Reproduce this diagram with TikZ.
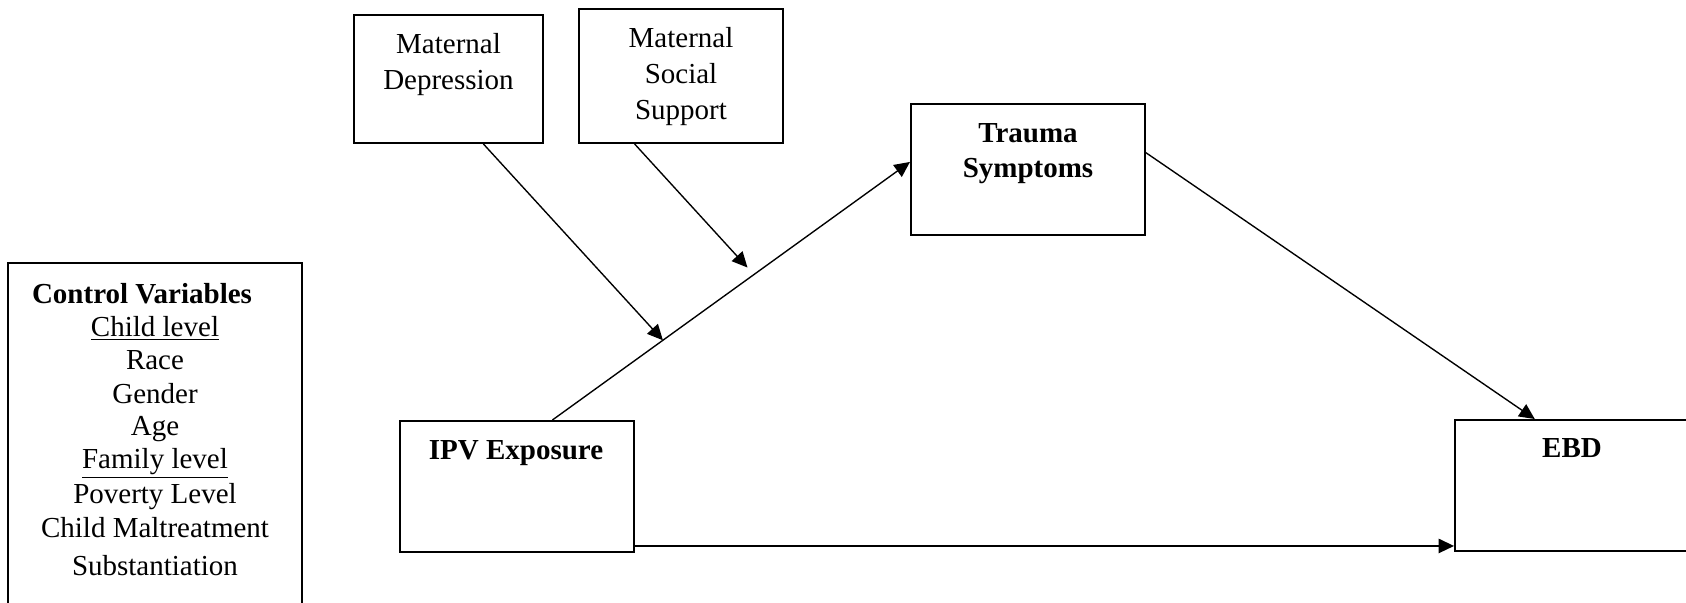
\documentclass[tikz,border=0pt]{standalone}
\usepackage{fontspec}
\setmainfont{Liberation Serif}
\usetikzlibrary{arrows.meta,calc,fit}
\begin{document}
\begin{tikzpicture}[x=0.4pt,y=-0.4pt,
  box/.style={draw, line width=0.8pt, rectangle, inner sep=0pt},
  lbl/.style={anchor=base, inner sep=0pt, align=center,
    font=\fontsize{11.6}{14.4}\selectfont},
  conn/.style={line width=0.55pt, -{Triangle[length=6.2pt,width=5.8pt]}},
]
% page frame
\clip (0,0) rectangle (1686,602);
\fill[white] (0,0) rectangle (1686,602);

% boxes
\node[box, fit={(354,15) (543,143)}] (md) {};
\node[box, fit={(579,9) (783,143)}] (ms) {};
\node[box, fit={(911,104) (1145,235)}] (ts) {};
\node[box, fit={(400,421) (634,552)}] (ipv) {};
\node[box, fit={(1455,420) (1700,551)}] (ebd) {};
\node[box, fit={(8,263) (302,650)}] (ctrl) {};

% box labels (multi-line labels sit on their last baseline)
\node[lbl] (mdtxt) at (448.5,89) {Maternal\\Depression};
\node[lbl] (mstxt) at (681,119) {Maternal\\Social\\Support};
\node[lbl, font=\fontsize{11.6}{14}\selectfont\bfseries] (tstxt) at (1028,177) {Trauma\\Symptoms};
\node[lbl, font=\fontsize{11.6}{14}\selectfont\bfseries] (ipvtxt) at (516,459) {IPV Exposure};
\node[lbl, font=\fontsize{11.6}{14}\selectfont\bfseries] (ebdtxt) at (1572,457) {EBD};

% control variables list
\node[lbl, font=\fontsize{11.6}{14}\selectfont\bfseries] (cv0) at (142,303) {Control Variables};
\node[lbl] (cv1) at (155,336) {\underline{Child level}};
\node[lbl] (cv2) at (155,369) {Race};
\node[lbl] (cv3) at (155,403) {Gender};
\node[lbl] (cv4) at (155,435) {Age};
\node[lbl] (cv5) at (155,468) {\underline{Family level}};
\node[lbl] (cv6) at (155,503) {Poverty Level};
\node[lbl] (cv7) at (155,537) {Child Maltreatment};
\node[lbl] (cv8) at (155,575) {Substantiation};

% connector end points
\coordinate (ipvout) at ($(ipv.north west)!0.65!(ipv.north east)$);
\coordinate (tsin) at ($(ts.north west)!0.443!(ts.south west)$);
\coordinate (tsout) at ($(ts.north east)!0.374!(ts.south east)$);
\coordinate (ebdin) at ($(ebd.north west)!0.327!(ebd.north east)$);
\coordinate (ipvlow) at ($(ipv.north east)!0.947!(ipv.south east)$);
\coordinate (mdout) at ($(md.south west)!0.683!(md.south east)$);
\coordinate (msout) at ($(ms.south west)!0.275!(ms.south east)$);
\coordinate (modA) at ($(ipvout)!0.309!(tsin)$);
\coordinate (modB) at ($(ipvout)!0.5635!(tsin)$);

% paths
\draw[conn] (ipvout) -- (tsin);
\draw[conn] (tsout) -- (ebdin);
\draw[conn] (ipvlow) -- (ipvlow -| ebd.west);
\draw[conn] (mdout) -- (modA);
\draw[conn, shorten >=3.8pt] (msout) -- (modB);
\end{tikzpicture}
\end{document}
